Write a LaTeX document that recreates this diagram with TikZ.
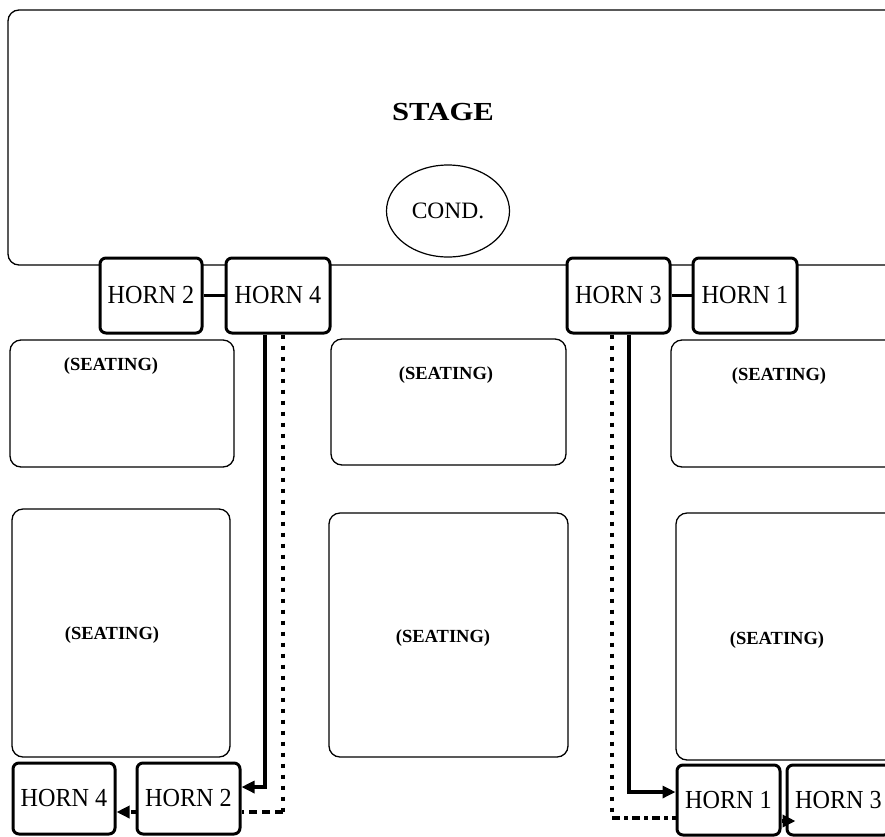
\documentclass[tikz,border=0pt]{standalone}
\usepackage{fontspec}
\setmainfont{Liberation Serif}
\usetikzlibrary{arrows.meta,shapes.geometric}
\newcommand{\hornlabel}[1]{\scalebox{0.93}[1]{#1}}
\begin{document}
\begin{tikzpicture}[x=1pt,y=-1pt,
  area/.style={draw, line width=1.3pt, rounded corners=11pt, inner sep=0pt, fill=white},
  horn/.style={draw, line width=3pt, rounded corners=6pt, fill=white, inner sep=0pt,
    font=\fontsize{26}{26}\selectfont},
  seattext/.style={font=\bfseries\fontsize{18.5}{18.5}\selectfont, inner sep=0pt},
  link/.style={line width=3.2pt},
  solidpath/.style={line width=3.2pt},
  dotpath/.style={line width=3.6pt, dash pattern=on 4.5pt off 6.5pt},
  dashpath/.style={line width=3.6pt, dash pattern=on 8pt off 5pt},
  dashdotpath/.style={line width=3.6pt, dash pattern=on 8pt off 4pt on 4pt off 4pt},
  tip/.style={-{Triangle[length=13pt,width=12pt]}}
]
\useasboundingbox (0,0) rectangle (885,836);
\clip (0,0) rectangle (885,836);
\fill[white] (0,0) rectangle (885,836);

% stage
\node[area, minimum width=892pt, minimum height=255pt] (stage) at (454,137.5) {};
\node[font=\bfseries\fontsize{26}{26}\selectfont, inner sep=0pt] (stagetext) at (443,112) {\scalebox{1.18}[1]{STAGE}};
\node[draw, ellipse, line width=1.2pt, minimum width=123pt, minimum height=92pt, inner sep=0pt,
  font=\fontsize{23.5}{23.5}\selectfont] (cond) at (448,211) {COND.};

% seating areas
\node[area, minimum width=224pt, minimum height=127pt] (s1l) at (122,403.5) {};
\node[area, minimum width=235pt, minimum height=126pt] (s1m) at (448.5,402) {};
\node[area, minimum width=229pt, minimum height=127pt] (s1r) at (785.5,403.5) {};
\node[area, minimum width=218pt, minimum height=248pt] (s2l) at (121,633) {};
\node[area, minimum width=239pt, minimum height=244pt] (s2m) at (448.5,635) {};
\node[area, minimum width=224pt, minimum height=247pt] (s2r) at (788,636.5) {};

\node[seattext] (t1l) at (111,366) {(SEATING)};
\node[seattext] (t1m) at (446,375) {(SEATING)};
\node[seattext] (t1r) at (779,376) {(SEATING)};
\node[seattext] (t2l) at (112,635) {(SEATING)};
\node[seattext] (t2m) at (443,638) {(SEATING)};
\node[seattext] (t2r) at (777,640) {(SEATING)};

% horns near the stage
\node[horn, minimum width=102pt, minimum height=75pt] (th2) at (151,295.5) {\hornlabel{HORN 2}};
\node[horn, minimum width=104pt, minimum height=75pt] (th4) at (278,295.5) {\hornlabel{HORN 4}};
\node[horn, minimum width=103pt, minimum height=75pt] (th3) at (618.5,295.5) {\hornlabel{HORN 3}};
\node[horn, minimum width=104pt, minimum height=75pt] (th1) at (745,295.5) {\hornlabel{HORN 1}};

% horns at the back
\node[horn, minimum width=102pt, minimum height=71pt] (bh4) at (64,798.5) {\hornlabel{HORN 4}};
\node[horn, minimum width=103pt, minimum height=71pt] (bh2) at (188.5,798.5) {\hornlabel{HORN 2}};
\node[horn, minimum width=103pt, minimum height=70pt] (bh1) at (728.5,800) {\hornlabel{HORN 1}};
\node[horn, minimum width=103pt, minimum height=70pt] (bh3) at (838.5,800) {\hornlabel{HORN 3}};

% links between stage horns
\draw[link] (th2.east) -- (th4.west);
\draw[link] (th3.east) -- (th1.west);

% corner points
\coordinate (cl1) at (265,787);
\coordinate (cl2) at (283,812);
\coordinate (cr1) at (629,792);
\coordinate (cr2) at (612,818);
\coordinate (cr3) at (0,821);

% left side paths
\draw[solidpath, tip] (th4.south -| cl1) -- (cl1) -- (bh2.east |- cl1);
\draw[dotpath] (th4.south -| cl2) -- (cl2);
\draw[dashpath] (cl2) -- (bh2.east |- cl2);
\draw[dotpath, tip] (bh2.west |- cl2) -- (bh4.east |- cl2);

% right side paths
\draw[solidpath, tip] (th3.south -| cr1) -- (cr1) -- (bh1.west |- cr1);
\draw[dotpath] (th3.south -| cr2) -- (cr2);
\draw[dashdotpath] (cr2) -- (bh1.west |- cr2);
\draw[dotpath, tip, shorten >=-10pt] (bh1.east |- cr3) -- (bh3.west |- cr3);
\end{tikzpicture}
\end{document}
